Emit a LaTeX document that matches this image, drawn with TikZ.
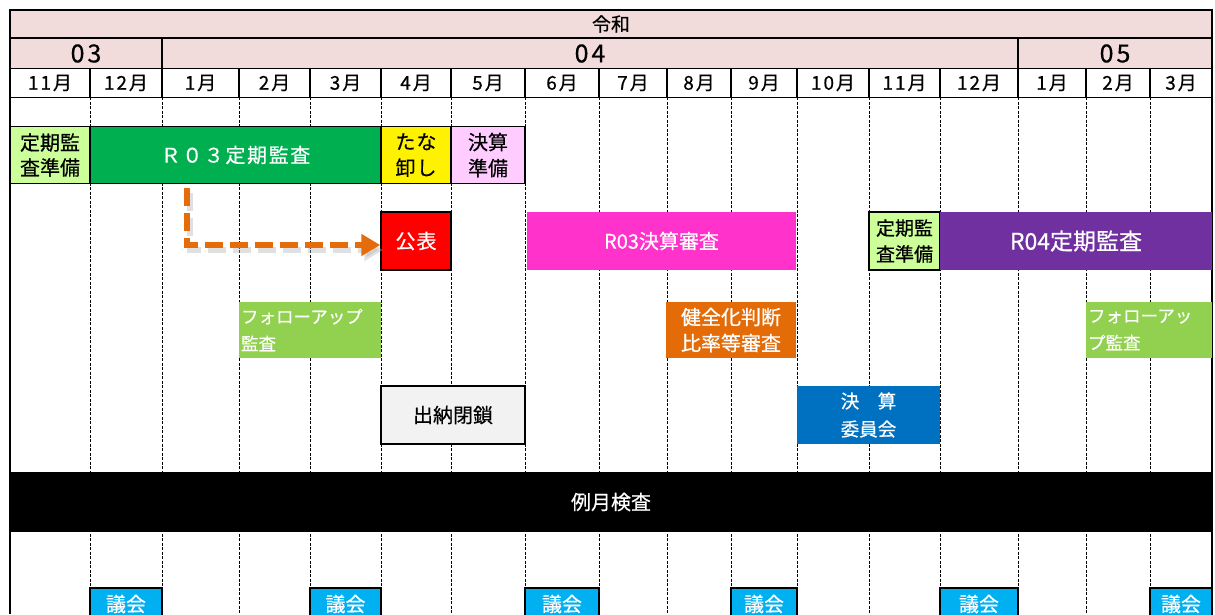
\documentclass[tikz,border=0pt]{standalone}
\usepackage{fontspec}
\setmainfont{Noto Sans CJK JP}[FakeBold=0.5]
\usetikzlibrary{arrows.meta}
\definecolor{hdrpink}{HTML}{F2DCDB}
\definecolor{lgreen}{HTML}{CCFF99}
\definecolor{dgreen}{HTML}{00B050}
\definecolor{ppink}{HTML}{FFCCFF}
\definecolor{magen}{HTML}{FF33CC}
\definecolor{purp}{HTML}{7030A0}
\definecolor{fgreen}{HTML}{92D050}
\definecolor{orng}{HTML}{E36C09}
\definecolor{arrorng}{HTML}{E46C0A}
\definecolor{lgrey}{HTML}{F2F2F2}
\definecolor{dblue}{HTML}{0070C0}
\definecolor{cyanb}{HTML}{00B0F0}
\newcommand{\jfs}[2]{\fontsize{#1}{#2}\selectfont}
\begin{document}
\begin{tikzpicture}[x=1pt,y=-1pt,
  hcell/.style={draw=black, line width=1.5pt, fill=hdrpink, inner sep=0},
  mcell/.style={draw=black, line width=1.5pt, fill=white, inner sep=0, font={\jfs{19}{19}\addfontfeature{LetterSpace=10}}},
  box/.style={draw=black, line width=1.5pt, inner sep=0, align=center, font={\jfs{20}{25}}},
  flat/.style={inner sep=0, align=center, font={\jfs{20}{25}}, text=white},
  vdash/.style={line width=0.9pt, dash pattern=on 3pt off 1.5pt},
  arr/.style={line width=6.5pt, draw=arrorng, dash pattern=on 18pt off 7pt, -{Triangle[length=19pt,width=21pt]}},
  arrshadow/.style={line width=6.5pt, draw=black!30, opacity=0.4, dash pattern=on 18pt off 7pt, -{Triangle[length=19pt,width=21pt]}}
]
\useasboundingbox (0,0) rectangle (1215,614);
\clip (0,0) rectangle (1215,614);
\fill[white] (0,0) rectangle (1215,614);

% vertical dashed month lines
\foreach \x in {90,162,239,310,381,451,525,599,667,731,797,869,940,1018,1086,1150}
  \draw[vdash] (\x,97) -- (\x,614);
\draw[line width=1.5pt] (10,97) -- (10,614);
\draw[line width=1.5pt] (1212,97) -- (1212,614);

% header
\node[hcell, minimum width=1202, minimum height=28, font={\jfs{19}{19}}] (reiwa) at (611,24) {令和};
\node[hcell, minimum width=152, minimum height=30, font={\jfs{25}{25}\addfontfeature{LetterSpace=12}}] (y03) at (86,53.5) {03};
\node[hcell, minimum width=856, minimum height=30, font={\jfs{25}{25}\addfontfeature{LetterSpace=12}}] (y04) at (590,53.5) {04};
\node[hcell, minimum width=194, minimum height=30, font={\jfs{25}{25}\addfontfeature{LetterSpace=12}}] (y05) at (1115,53.5) {05};

\foreach \a/\b/\t [count=\i] in {10/90/11月,90/162/12月,162/239/1月,239/310/2月,310/381/3月,381/451/4月,451/525/5月,525/599/6月,599/667/7月,667/731/8月,731/797/9月,797/869/10月,869/940/11月,940/1018/12月,1018/1086/1月,1086/1150/2月,1150/1212/3月}{
  \pgfmathsetmacro\w{\b-\a}
  \pgfmathsetmacro\c{(\a+\b)/2}
  \node[mcell, minimum width=\w, minimum height=29] (m\i) at (\c,83) {\t};
}

% row 1
\node[box, fill=lgreen, minimum width=80, minimum height=57] (prep1) at (50,155) {定期監\\査準備};
\node[box, fill=dgreen, text=white, minimum width=291, minimum height=57, font={\jfs{20}{25}\addfontfeature{LetterSpace=8}}] (r03) at (235.5,155) {Ｒ０３定期監査};
\node[box, fill=yellow, minimum width=70, minimum height=57, font={\jfs{20}{26}\addfontfeature{LetterSpace=5}}] (tana) at (416,155) {たな\\卸し};
\node[box, fill=ppink, minimum width=74, minimum height=57, font={\jfs{20}{26}}] (kjunbi) at (488,155) {決算\\準備};

% row 2
\node[box, fill=red, text=white, minimum width=70, minimum height=58, font={\jfs{20}{25}\addfontfeature{LetterSpace=5}}] (kohyo) at (416,241) {公表};
\node[flat, fill=magen, minimum width=269, minimum height=58] (r03k) at (661.5,241) {R03決算審査};
\node[box, fill=lgreen, minimum width=71, minimum height=58, font={\jfs{19}{26}}] (prep2) at (904.5,241) {定期監\\査準備};
\node[flat, fill=purp, minimum width=272, minimum height=58, font={\jfs{23}{25}}] (r04) at (1076,241) {R04定期監査};

% arrow
\coordinate (arrstart) at (187,188);
\draw[arrshadow] ([xshift=3pt,yshift=-5pt]arrstart) |- ([xshift=3pt,yshift=-9pt]kohyo.west);
\draw[arr] (arrstart) |- ([yshift=-4pt]kohyo.west);

% row 3
\node[flat, fill=fgreen, minimum height=56, text width=138, align=left, inner sep=2, font={\jfs{17.5}{27}}] (follow1) at (310,330) {フォローアップ\\監査};
\node[flat, fill=orng, minimum width=130, minimum height=56, font={\jfs{20}{26}}] (kenzen) at (731,330) {健全化判断\\比率等審査};
\node[flat, fill=fgreen, minimum height=56, text width=122, align=left, inner sep=2, font={\jfs{17.5}{27}}] (follow2) at (1149,330) {フォローアッ\\プ監査};

% row 4
\node[box, fill=lgrey, minimum width=144, minimum height=58] (suito) at (453,415) {出納閉鎖};
\node[flat, fill=dblue, minimum width=143, minimum height=58, font={\jfs{18.5}{28}}] (kiin) at (868.5,415) {決　算\\委員会};

% monthly audit
\node[flat, fill=black, minimum width=1202, minimum height=60] (reigetsu) at (611,502) {例月検査};

% assembly
\foreach \a/\b [count=\i] in {90/162,310/381,525/599,731/797,940/1018,1150/1212}{
  \pgfmathsetmacro\w{\b-\a}
  \pgfmathsetmacro\c{(\a+\b)/2}
  \node[box, fill=cyanb, text=white, minimum width=\w, minimum height=32] (gikai\i) at (\c,604) {議会};
}
\end{tikzpicture}
\end{document}
